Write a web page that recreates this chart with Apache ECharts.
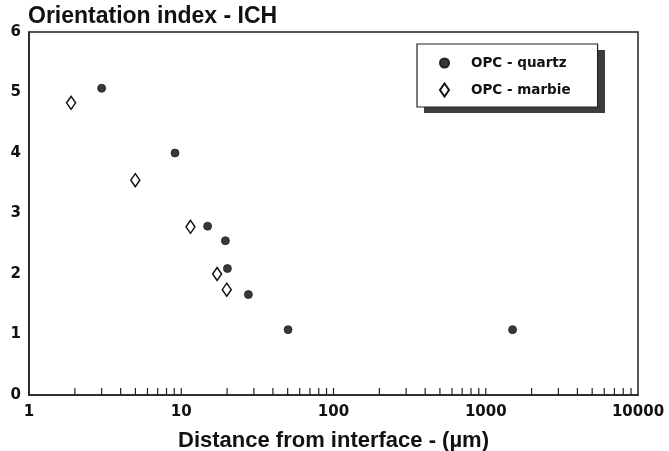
<!DOCTYPE html>
<html>
<head>
<meta charset="utf-8">
<script src="https://cdn.jsdelivr.net/npm/echarts@6/dist/echarts.min.js"></script>
<style>html,body{margin:0;padding:0;background:#fff;}#c{width:669px;height:451px;}</style>
</head>
<body>
<div id="c"></div>
<script>
const titleText = 'Orientation index - ICH';
const xAxisTitle = 'Distance from interface - (µm)';
const seriesNames = ['OPC - quartz', 'OPC - marbie'];
const quartzX = [3.0, 9.1, 14.9, 19.5, 20.1, 27.6, 50.3, 1500];
const quartzY = [5.07, 4.00, 2.79, 2.55, 2.09, 1.66, 1.08, 1.08];
const marbleX = [1.89, 4.99, 11.5, 17.2, 19.9];
const marbleY = [4.83, 3.55, 2.78, 2.00, 1.74];
const xMin = 1, xMax = 10000;
const yMin = 0, yMax = 6, yStep = 1;

// minor tick values on the log axis (2..9 in each decade, plus decade marks)
const tickValues = [];
for (let d = 1; d < xMax; d *= 10) {
  for (let k = 2; k <= 10; k++) {
    const v = d * k;
    if (v < xMax) tickValues.push(v);
  }
}

const chart = echarts.init(document.getElementById('c'), null, {renderer: 'canvas'});
const labelFont = {fontFamily: 'DejaVu Sans', fontWeight: 'bold', fontSize: 15, color: '#111'};

chart.setOption({
  animation: false,
  backgroundColor: '#fff',
  title: {
    text: titleText,
    left: 28, top: 5, padding: 0,
    textStyle: {fontFamily: 'Liberation Sans', fontWeight: 'bold', fontSize: 23, color: '#111'}
  },
  grid: {left: 29, right: 31, top: 32, bottom: 56, show: true, borderColor: '#222', borderWidth: 1.5, backgroundColor: 'transparent', containLabel: false, outerBoundsMode: 'none'},
  graphic: [
    {type: 'rect', z: 3, silent: true, shape: {x: 424, y: 50, width: 181, height: 63}, style: {fill: '#3c3c3c'}}
  ],
  legend: {
    data: seriesNames,
    orient: 'vertical',
    left: 417, top: 44, z: 5,
    padding: [10, 27, 8, 22],
    itemWidth: 9, itemHeight: 13,
    itemGap: 9,
    backgroundColor: '#fff',
    borderColor: '#222', borderWidth: 1.2,
    textStyle: {fontFamily: 'DejaVu Sans', fontWeight: 'bold', fontSize: 13.5, color: '#111', lineHeight: 18, padding: [0, 0, 0, 17]}
  },
  xAxis: {
    type: 'log', logBase: 10, min: xMin, max: xMax,
    name: xAxisTitle, nameLocation: 'middle', nameGap: 35,
    nameTextStyle: {fontFamily: 'Liberation Sans', fontWeight: 'bold', fontSize: 22, color: '#111'},
    axisLine: {show: true, lineStyle: {color: '#222', width: 1.5}},
    axisTick: {show: false},
    splitLine: {show: false},
    minorTick: {show: false},
    axisLabel: Object.assign({margin: 10, formatter: v => String(Math.round(v))}, labelFont)
  },
  yAxis: {
    type: 'value', min: yMin, max: yMax, interval: yStep,
    axisLine: {show: true, lineStyle: {color: '#222', width: 1.5}},
    axisTick: {show: false},
    splitLine: {show: false},
    axisLabel: Object.assign({margin: 8}, labelFont)
  },
  series: [
    {
      name: seriesNames[0], type: 'scatter',
      data: quartzX.map((x, i) => [x, quartzY[i]]),
      symbol: 'circle', symbolSize: 8,
      itemStyle: {color: '#383838', borderColor: '#222', borderWidth: 0.8, opacity: 1}
    },
    {
      name: seriesNames[1], type: 'scatter',
      data: marbleX.map((x, i) => [x, marbleY[i]]),
      symbol: 'diamond', symbolSize: [9, 13],
      itemStyle: {color: '#fff', borderColor: '#111', borderWidth: 1.5, opacity: 1}
    },
    {
      name: 'ticks', type: 'custom', silent: true,
      data: tickValues.map(v => [v, 0]),
      renderItem: function (params, api) {
        const p = api.coord([api.value(0), 0]);
        return {
          type: 'line',
          shape: {x1: p[0], y1: p[1], x2: p[0], y2: p[1] - 7},
          style: {stroke: '#222', lineWidth: 1.2}
        };
      },
      z: 1
    }
  ]
});
</script>
</body>
</html>
